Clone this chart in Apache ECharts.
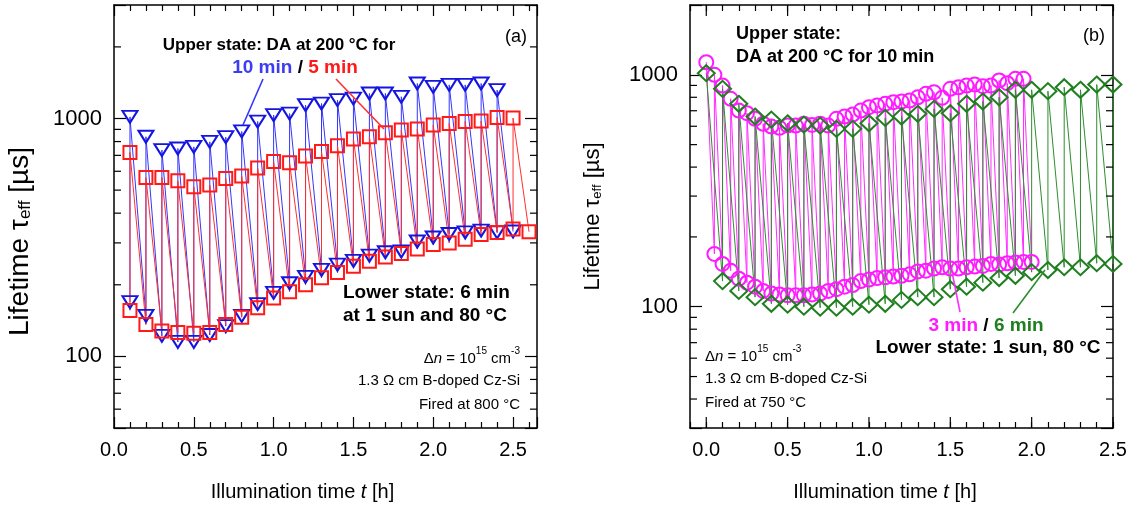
<!DOCTYPE html>
<html>
<head>
<meta charset="utf-8">
<script src="https://cdn.jsdelivr.net/npm/echarts/dist/echarts.min.js"></script>
<style>
  html, body { margin: 0; padding: 0; background: #fff; }
  #chart { width: 1141px; height: 513px; }
</style>
</head>
<body>
<div id="chart"></div>
<script>
// ---- panel (a): DA 10 min (blue) / 5 min (red), 6 min lower-state illumination
const timeA = [0.1, 0.2, 0.3, 0.4, 0.5, 0.6, 0.7, 0.8, 0.9, 1.0, 1.1, 1.2, 1.3,
  1.4, 1.5, 1.6, 1.7, 1.8, 1.9, 2.0, 2.1, 2.2, 2.3, 2.4, 2.5, 2.6];
const blueUpperA = [1016, 838, 737, 748, 760, 798, 835, 882, 971, 1033, 1049, 1138, 1156,
  1195, 1213, 1274, 1274, 1234, 1403, 1359, 1385, 1385, 1403, 1316];
const blueLowerA = [169, 148, 122, 115, 115, 123, 134, 148, 166, 185, 203, 216, 231,
  243, 252, 265, 274, 276, 304, 316, 327, 332, 338, 332, 335];
const redUpperA = [720, 565, 565, 547, 516, 525, 560, 573, 619, 660, 651, 695, 727,
  768, 820, 838, 871, 894, 903, 938, 953, 971, 975, 1010, 1004];
const redLowerA = [156, 136, 128, 126, 125, 126, 136, 146, 160, 176, 187, 200, 214,
  225, 239, 251, 262, 271, 283, 295, 300, 311, 325, 332, 343, 334];

// ---- panel (b): DA 10 min, lower state 3 min (magenta) / 6 min (green)
const timeB6 = [0, 0.1, 0.2, 0.3, 0.4, 0.5, 0.6, 0.7, 0.8, 0.9, 1.0, 1.1, 1.2,
  1.3, 1.4, 1.5, 1.6, 1.7, 1.8, 1.9, 2.0, 2.1, 2.2, 2.3, 2.4, 2.5];
const greenUpperB = [1016, 870, 750, 661, 641, 618, 610, 604, 585, 585, 618, 652, 661,
  679, 713, 683, 750, 767, 800, 862, 862, 850, 884, 862, 908, 908];
const greenLowerB = [null, 129, 117, 110, 103, 102, 100, 99, 99, 100, 102, 103, 107,
  110, 110, 119, 122, 127, 133, 136, 141, 144, 148, 148, 154, 153];

const timeB3 = [0, 0.05, 0.1, 0.15, 0.2, 0.25, 0.3, 0.35, 0.4, 0.45, 0.5, 0.55, 0.6, 0.65,
  0.7, 0.75, 0.8, 0.85, 0.9, 0.95, 1.0, 1.05, 1.1, 1.15, 1.2, 1.25, 1.3, 1.35, 1.4, 1.45,
  1.5, 1.55, 1.6, 1.65, 1.7, 1.75, 1.8, 1.85, 1.9, 1.95, 2.0];
const magentaUpperB = [1133, 1000, 899, 788, 701, 683, 646, 615, 598, 591, 604, 604, 615, 608,
  615, 604, 646, 661, 674, 701, 725, 737, 750, 762, 767, 775, 800, 828, 841, 796,
  870, 884, 899, 908, 893, 899, 945, 920, 961, 961, null];
const magentaLowerB = [null, 169, 153, 143, 132, 127, 122, 117, 114, 113, 112, 112, 112, 113,
  114, 117, 119, 122, 124, 129, 131, 133, 134, 135, 136, 138, 142, 143, 146, 148,
  146, 146, 148, 149, 150, 153, 152, 154, 155, 156, 156];

// tick positions / labels
const yLabelsShown = [100, 1000];
const yMinorA = [60, 70, 80, 90, 200, 300, 400, 500, 600, 700, 800, 900, 2000];
const yMinorB = [40, 50, 60, 70, 80, 90, 200, 300, 400, 500, 600, 700, 800, 900];
const xMajorB = [0, 0.5, 1.0, 1.5, 2.0, 2.5];

const FONT = '"Liberation Sans", Arial, sans-serif';

// lower(t) -> upper(t) -> lower(t+dt) ...
function zigzag(times, lower, upper) {
  const out = [];
  times.forEach(function (t, i) {
    if (lower[i] != null) out.push([t, lower[i]]);
    if (upper[i] != null) out.push([t, upper[i]]);
  });
  return out;
}

function xLabel(v) {
  return (Math.abs(v * 2 - Math.round(v * 2)) < 1e-6 && v > -1e-6) ? v.toFixed(1) : '';
}
function yLabel(v) {
  const r = Math.round(v);
  return yLabelsShown.indexOf(r) >= 0 ? String(r) : '';
}

const frameLine = { onZero: false, lineStyle: { color: '#000', width: 1.5 } };
const tickStyle = { color: '#000', width: 1.2 };

function xAxis(grid, min, max, interval, pos, withMinor, nameShift) {
  const ax = {
    gridIndex: grid, type: 'value', min: min, max: max, interval: interval, position: pos,
    axisLine: frameLine,
    axisTick: { inside: true, length: withMinor ? 11 : 6, lineStyle: tickStyle },
    minorTick: { show: withMinor, splitNumber: 5, length: 6, lineStyle: tickStyle },
    splitLine: { show: false },
    axisLabel: { show: false }
  };
  if (pos === 'bottom') {
    ax.axisLabel = { show: true, formatter: xLabel, color: '#000', fontSize: 20, fontFamily: FONT, margin: 12 };
    ax.name = 'Illumination time {it|t} [h]';
    ax.nameLocation = 'middle';
    ax.nameGap = 54;
    ax.nameTextStyle = {
      color: '#000', fontSize: 20, fontFamily: FONT, padding: [0, nameShift, 0, 0],
      rich: { it: { fontStyle: 'italic', fontSize: 20, fontFamily: FONT, color: '#000' } }
    };
  }
  return ax;
}

function yAxis(grid, min, max, pos, nameSize, nameGap, nameShift) {
  const ax = {
    gridIndex: grid, type: 'log', logBase: 10, min: min, max: max, position: pos,
    axisLine: frameLine,
    axisTick: { inside: true, length: 12, lineStyle: tickStyle },
    splitLine: { show: false },
    axisLabel: { show: false }
  };
  if (pos === 'left') {
    ax.axisLabel = { show: true, formatter: yLabel, color: '#000', fontSize: 22, fontFamily: FONT, margin: 12 };
    ax.name = 'Lifetime τ{sub|eff} [µs]';
    ax.nameLocation = 'middle';
    ax.nameGap = nameGap;
    ax.nameTextStyle = {
      color: '#000', fontSize: nameSize, fontFamily: FONT, padding: [0, nameShift, 0, 0],
      rich: { sub: { fontSize: Math.round(nameSize * 0.6), fontFamily: FONT, color: '#000', verticalAlign: 'bottom' } }
    };
  }
  return ax;
}

// extra frame ticks (log minor ticks, long x ticks in b) placed through the axes
function tickSeries(xi, yi, data, kind) {
  return {
    type: 'custom', xAxisIndex: xi, yAxisIndex: yi, data: data, silent: true, z: 5, clip: false,
    renderItem: function (params, api) {
      const cs = params.coordSys;
      const p = api.coord([api.value(0), api.value(1)]);
      let segs;
      if (kind === 'y') {
        segs = [[cs.x, p[1], cs.x + 7, p[1]], [cs.x + cs.width - 7, p[1], cs.x + cs.width, p[1]]];
      } else {
        segs = [[p[0], cs.y + cs.height, p[0], cs.y + cs.height - 11], [p[0], cs.y, p[0], cs.y + 11]];
      }
      return {
        type: 'group',
        children: segs.map(function (s) {
          return { type: 'line', shape: { x1: s[0], y1: s[1], x2: s[2], y2: s[3] }, style: { stroke: '#000', lineWidth: 1.2 } };
        })
      };
    }
  };
}

function lineSeries(xi, yi, data, lineColor, markColor, symbol, size, rotate) {
  return {
    type: 'line', xAxisIndex: xi, yAxisIndex: yi, data: data,
    symbol: symbol, symbolSize: size, symbolRotate: rotate || 0, showAllSymbol: true,
    clip: false, silent: true,
    lineStyle: { color: lineColor, width: 1 },
    itemStyle: { color: 'rgba(0,0,0,0)', borderColor: markColor, borderWidth: 2 }
  };
}

function txt(x, y, text, size, opts) {
  opts = opts || {};
  return {
    type: 'text', x: x, y: y, silent: true, z: 20,
    style: {
      text: text, fill: opts.fill || '#000', fontSize: size, fontFamily: FONT,
      fontWeight: opts.bold ? 'bold' : 'normal', align: opts.align || 'left', verticalAlign: 'middle',
      lineHeight: opts.lineHeight, rich: opts.rich
    }
  };
}
function pointer(x1, y1, x2, y2, color) {
  return { type: 'line', silent: true, z: 20, shape: { x1: x1, y1: y1, x2: x2, y2: y2 }, style: { stroke: color, lineWidth: 1.6 } };
}

const infoRich = {
  t: { fontSize: 15, fontFamily: FONT, fill: '#000', verticalAlign: 'bottom', lineHeight: 20 },
  ti: { fontSize: 15, fontFamily: FONT, fill: '#000', fontStyle: 'italic', verticalAlign: 'bottom', lineHeight: 20 },
  s: { fontSize: 10, fontFamily: FONT, fill: '#000', verticalAlign: 'top', lineHeight: 12 }
};
const deltaN = '{t|Δ}{ti|n}{t| = 10}{s|15}{t| cm}{s|-3}';
function boldRich(colors) {
  const r = {};
  Object.keys(colors).forEach(function (k) {
    r[k] = { fontSize: 19, fontFamily: FONT, fontWeight: 'bold', fill: colors[k] };
  });
  return r;
}

const BLUE_M = '#1515e0', BLUE_L = '#3535ff';
const RED_M = '#ff1a1a', RED_L = '#ff3030';
const MAG_M = '#ff1aff', MAG_L = '#ff2cff';
const GRN_M = '#1f7f1f', GRN_L = '#2e8e2e';

const chart = echarts.init(document.getElementById('chart'), null, { renderer: 'canvas' });

chart.setOption({
  animation: false,
  backgroundColor: '#fff',
  textStyle: { fontFamily: FONT },
  grid: [
    { left: 114, top: 5, width: 423, height: 423 },
    { left: 690, top: 5, width: 423, height: 423 }
  ],
  xAxis: [
    xAxis(0, 0, 2.65, 0.5, 'bottom', true, 46),
    xAxis(0, 0, 2.65, 0.5, 'top', true, 0),
    xAxis(1, -0.1, 2.5, 0.1, 'bottom', false, 33),
    xAxis(1, -0.1, 2.5, 0.1, 'top', false, 0)
  ],
  yAxis: [
    yAxis(0, 50, 3000, 'left', 28, 80, 50),
    yAxis(0, 50, 3000, 'right'),
    yAxis(1, 30, 2000, 'left', 22, 86, 0),
    yAxis(1, 30, 2000, 'right')
  ],
  series: [
    tickSeries(0, 0, yMinorA.map(function (v) { return [1, v]; }), 'y'),
    tickSeries(2, 2, yMinorB.map(function (v) { return [1, v]; }), 'y'),
    tickSeries(2, 2, xMajorB.map(function (v) { return [v, 100]; }), 'x'),
    // (a)
    lineSeries(0, 0, zigzag(timeA, blueLowerA, blueUpperA), BLUE_L, BLUE_M, 'triangle', [15, 12], 180),
    lineSeries(0, 0, zigzag(timeA, redLowerA, redUpperA), RED_L, RED_M, 'rect', 13),
    // (b)
    lineSeries(2, 2, zigzag(timeB3, magentaLowerB, magentaUpperB), MAG_L, MAG_M, 'circle', 14),
    lineSeries(2, 2, zigzag(timeB6, greenLowerB, greenUpperB), GRN_L, GRN_M, 'diamond', [17, 16])
  ],
  graphic: [
    // panel (a)
    txt(279, 45, 'Upper state: DA at 200 °C for', 17, { bold: true, align: 'center' }),
    txt(295, 68, '{b|10 min}{k| / }{r|5 min}', 18, { align: 'center', rich: boldRich({ b: '#3c3cf2', k: '#000', r: RED_M }) }),
    pointer(263, 79, 243, 125, BLUE_L),
    pointer(336, 79, 384, 129, RED_L),
    txt(505, 37, '(a)', 18),
    txt(343, 293, 'Lower state: 6 min', 19, { bold: true }),
    txt(343, 316, 'at 1 sun and 80 °C', 19, { bold: true }),
    txt(520, 356, deltaN, 15, { align: 'right', rich: infoRich }),
    txt(520, 381, '1.3 Ω cm B-doped Cz-Si', 15, { align: 'right' }),
    txt(520, 405, 'Fired at 800 °C', 15, { align: 'right' }),
    // panel (b)
    txt(736, 34, 'Upper state:', 18, { bold: true }),
    txt(736, 57, 'DA at 200 °C for 10 min', 18, { bold: true }),
    txt(1083, 36, '(b)', 18),
    pointer(960, 312, 952, 272, MAG_L),
    pointer(1013, 313, 1045, 270, GRN_L),
    txt(986, 326, '{m|3 min}{k| / }{g|6 min}', 19, { align: 'center', rich: boldRich({ m: MAG_M, k: '#000', g: GRN_M }) }),
    txt(988, 348, 'Lower state: 1 sun, 80 °C', 19, { bold: true, align: 'center' }),
    txt(705, 354, deltaN, 15, { rich: infoRich }),
    txt(705, 379, '1.3 Ω cm B-doped Cz-Si', 15),
    txt(705, 403, 'Fired at 750 °C', 15)
  ]
});
</script>
</body>
</html>
